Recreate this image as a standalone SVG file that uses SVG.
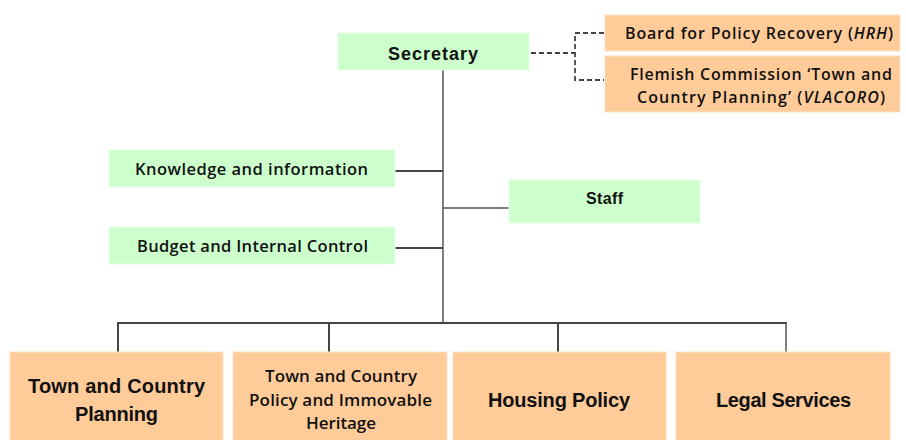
<svg xmlns="http://www.w3.org/2000/svg" width="906" height="440" viewBox="0 0 906 440">
  <style>
    .green { fill: #ccffcc; stroke: #e6ffe6; stroke-width: 1; }
    .orange { fill: #ffcc99; stroke: #ffe0c2; stroke-width: 1; }
    text { font-family: "Liberation Sans", Arial, sans-serif; fill: #111; text-anchor: middle; }
    .b { font-weight: bold; }
    .m { font-family: "Open Sans", "Liberation Sans", sans-serif; font-weight: 600; }
    .link { stroke: #444; stroke-width: 2; fill: none; }
    .thin { stroke: #555; stroke-width: 1.5; fill: none; }
    .dash { stroke: #444; stroke-width: 1.8; fill: none; stroke-dasharray: 5 3; }
  </style>

  <!-- connectors -->
  <g id="connectors">
    <line class="thin" x1="443" y1="70" x2="443" y2="323"/>
    <line class="link" x1="395" y1="171" x2="443" y2="171" stroke="#111"/>
    <line class="link" x1="395" y1="248" x2="443" y2="248" stroke="#111"/>
    <line class="thin" x1="443" y1="208" x2="509" y2="208"/>
    <line class="link" x1="117" y1="323" x2="787" y2="323"/>
    <line class="link" x1="118" y1="322" x2="118" y2="352"/>
    <line class="link" x1="329" y1="322" x2="329" y2="352"/>
    <line class="link" x1="558" y1="322" x2="558" y2="352"/>
    <line class="thin" x1="786" y1="322" x2="786" y2="352" stroke="#999"/>
    <path class="dash" d="M531 53 H575 M604 33 H575 V80 H604"/>
  </g>

  <g id="secretary">
    <rect class="green" x="338" y="33" width="191" height="37"/>
    <text class="b" x="433" y="60" font-size="18" textLength="90">Secretary</text>
  </g>

  <g id="hrh">
    <rect class="orange" x="605" y="15" width="295" height="36"/>
    <text class="m" x="759" y="39" font-size="16" textLength="268">Board for Policy Recovery (<tspan font-style="italic">HRH</tspan>)</text>
  </g>

  <g id="vlacoro">
    <rect class="orange" x="605" y="56" width="295" height="56"/>
    <text class="m" x="761" y="80" font-size="16" textLength="262">Flemish Commission ‘Town and</text>
    <text class="m" x="761" y="103" font-size="16" textLength="248">Country Planning’ (<tspan font-style="italic">VLACORO</tspan>)</text>
  </g>

  <g id="knowledge">
    <rect class="green" x="109" y="150" width="286" height="37"/>
    <text class="m" x="251.5" y="175" font-size="16.5" textLength="233">Knowledge and information</text>
  </g>

  <g id="budget">
    <rect class="green" x="109" y="227" width="286" height="37"/>
    <text class="m" x="252.5" y="252" font-size="16.5" textLength="231">Budget and Internal Control</text>
  </g>

  <g id="staff">
    <rect class="green" x="509" y="180" width="191" height="43"/>
    <text class="b" x="604.5" y="204" font-size="16" textLength="37">Staff</text>
  </g>

  <g id="planning">
    <rect class="orange" x="10" y="352" width="213" height="92"/>
    <text class="b" x="116.5" y="393" font-size="20" textLength="177">Town and Country</text>
    <text class="b" x="116.5" y="421" font-size="20" textLength="83">Planning</text>
  </g>

  <g id="heritage">
    <rect class="orange" x="233" y="352" width="214" height="92"/>
    <text class="m" x="341" y="382" font-size="17" textLength="152">Town and Country</text>
    <text class="m" x="340.5" y="406" font-size="17" textLength="183">Policy and Immovable</text>
    <text class="m" x="341" y="429" font-size="17" textLength="70">Heritage</text>
  </g>

  <g id="housing">
    <rect class="orange" x="453" y="352" width="213" height="92"/>
    <text class="b" x="559" y="407" font-size="20" textLength="142">Housing Policy</text>
  </g>

  <g id="legal">
    <rect class="orange" x="676" y="352" width="214" height="92"/>
    <text class="b" x="783.5" y="407" font-size="20" textLength="135">Legal Services</text>
  </g>
</svg>
